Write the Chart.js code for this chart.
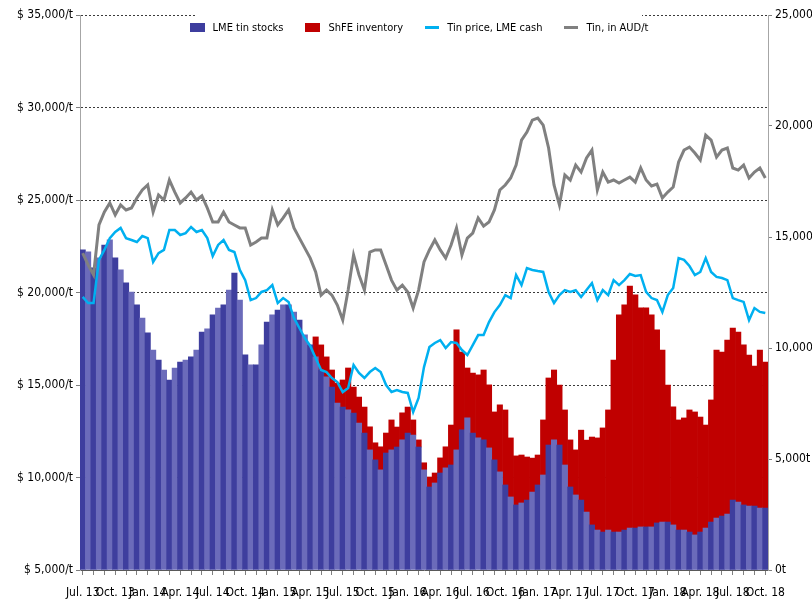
<!DOCTYPE html>
<html>
<head>
<meta charset="utf-8">
<script src="https://cdn.jsdelivr.net/npm/chart.js@4.4.0/dist/chart.umd.min.js"></script>
<style>
  html, body { margin: 0; padding: 0; background: #fff; }
  #wrap { position: relative; width: 812px; height: 603px; }
  #c { position: absolute; left: 0; top: 0; }
  #legend {
    position: absolute; left: 196px; top: 4px; width: 446px; height: 46px;
    background: #fff; display: flex; align-items: center; justify-content: center;
    gap: 22px; font-family: 'Liberation Sans Narrow', 'DejaVu Sans Condensed', sans-serif;
    font-size: 11px; color: #000; white-space: nowrap;
  }
  #legend .item { display: flex; align-items: center; }
  #legend .sw { display: inline-block; margin-right: 8px; }
</style>
</head>
<body>
<div id="wrap">
  <canvas id="c" width="812" height="603"></canvas>
  <div id="legend"></div>
</div>
<script>
// ---- Data (half-monthly, Jul 2013 .. Oct 2018) ----
const quarterLabels = ['Jul. 13','Oct. 13','Jan. 14','Apr. 14','Jul. 14','Oct. 14','Jan. 15','Apr. 15',
  'Jul. 15','Oct. 15','Jan. 16','Apr. 16','Jul. 16','Oct. 16','Jan. 17','Apr. 17','Jul. 17','Oct. 17',
  'Jan. 18','Apr. 18','Jul. 18','Oct. 18'];

// LME tin stocks, tonnes
const lmeStocks = [14420,14330,13610,14060,14640,14870,14060,13520,12930,12520,
  11940,11350,10680,9910,9460,9010,8560,9100,9370,9460,
  9600,9910,10720,10860,11490,11800,11940,12610,13380,12160,
  9690,9240,9240,10140,11170,11490,11710,11940,11940,11620,
  11260,10590,10140,9600,9010,8700,8240,7520,7340,7210,
  7070,6620,6170,5410,4960,4510,5270,5410,5540,5860,
  6170,6080,5540,4510,3740,3920,4370,4600,4730,5410,
  6310,6850,6170,5950,5860,5500,4960,4420,3830,3290,
  2930,3020,3150,3510,3830,4280,5630,5860,5630,4730,
  3740,3380,3150,2610,2030,1800,1710,1800,1710,1710,
  1800,1890,1890,1940,1940,1940,2120,2160,2160,2030,
  1800,1800,1710,1580,1710,1890,2160,2340,2430,2520,
  3150,3060,2930,2880,2880,2790,2790];

// ShFE inventory, tonnes (stacked on top of LME stocks)
const shfeInventory = [null,null,null,null,null,null,null,null,null,null,
  null,null,null,null,null,null,null,null,null,null,
  null,null,null,null,null,null,null,null,null,null,
  null,null,null,null,null,null,null,null,null,null,
  null,null,null,900,1130,900,770,900,1220,1890,
  1170,1170,1170,1040,770,1040,900,1350,900,1220,
  1170,680,320,320,450,450,680,950,1800,5410,
  3510,2250,2700,2840,3150,2840,2160,3020,3380,2660,
  2210,2160,1940,1530,1350,2480,3020,3150,2700,2480,
  2120,2030,3150,3240,3960,4150,4690,5410,7750,9780,
  10140,10900,10500,9870,9870,9550,8700,7750,6170,5320,
  4960,5050,5500,5540,5180,4640,5500,7570,7390,7840,
  7750,7660,7210,6800,6310,7120,6580];

// Tin price, LME cash, $/t
const lmeCash = [19760,19430,19430,21760,22300,22940,23270,23490,22940,22840,
  22730,23050,22940,21650,22130,22300,23380,23380,23110,23210,
  23540,23270,23380,22940,21970,22570,22840,22300,22190,21220,
  20670,19590,19700,20030,20130,20400,19430,19700,19490,18620,
  18080,17540,17110,16460,15810,15700,15380,15160,14620,14840,
  16080,15650,15380,15700,15920,15700,15000,14620,14730,14620,
  14570,13540,14300,15970,17050,17270,17430,17000,17320,17270,
  16890,16620,17160,17700,17700,18400,18940,19320,19860,19700,
  20950,20400,21320,21220,21160,21110,20030,19430,19860,20130,
  20030,20130,19760,20130,20510,19590,20130,19860,20670,20400,
  20670,21000,20890,20940,20030,19700,19590,18940,19860,20240,
  21860,21760,21430,20940,21110,21860,21110,20840,20780,20670,
  19700,19590,19490,18510,19160,18950,18890];

// Tin, in AUD/t
const audPrice = [22130,21490,20950,23650,24350,24840,24190,24730,24460,24570,
  25110,25540,25810,24350,25270,25000,26080,25430,24840,25110,
  25430,25000,25220,24570,23810,23810,24350,23810,23650,23490,
  23490,22570,22730,22940,22940,24460,23650,24030,24460,23490,
  22940,22400,21860,21110,19860,20130,19860,19320,18510,20130,
  22030,20950,20130,22190,22300,22300,21490,20670,20130,20400,
  20030,19160,20130,21650,22300,22840,22300,21860,22570,23490,
  22030,22940,23210,24030,23590,23810,24460,25540,25810,26190,
  26890,28240,28670,29320,29430,29050,27810,25810,24730,26350,
  26080,26890,26510,27270,27700,25540,26510,25970,26080,25920,
  26080,26240,25970,26730,26080,25760,25860,25110,25430,25700,
  27050,27700,27860,27540,27160,28510,28240,27320,27700,27810,
  26730,26620,26890,26190,26510,26730,26190];

// Category labels: half-month periods
const monthNames = ['Jan','Feb','Mar','Apr','May','Jun','Jul','Aug','Sep','Oct','Nov','Dec'];
const periods = [];
for (let k = 0; k < lmeStocks.length; k++) {
  const m = 6 + Math.floor(k / 2);
  const yr = 2013 + Math.floor(m / 12);
  periods.push(monthNames[m % 12] + ' ' + yr + (k % 2 ? ' (2)' : ' (1)'));
}

Chart.defaults.font.family = "'Liberation Sans Narrow', 'DejaVu Sans Condensed', sans-serif";
Chart.defaults.font.size = 12;
Chart.defaults.color = '#000';

const chart = new Chart(document.getElementById('c'), {
  type: 'bar',
  data: {
    labels: periods,
    datasets: [
      { type: 'bar', label: 'LME tin stocks', data: lmeStocks, yAxisID: 'y2', stack: 's',
        backgroundColor: c => (c.dataIndex % 2 ? '#6b6bba' : '#3e3e9e'),
        legendColor: '#3d3d9e',
        barPercentage: 1, categoryPercentage: 1, order: 3 },
      { type: 'bar', label: 'ShFE inventory', data: shfeInventory, yAxisID: 'y2', stack: 's',
        backgroundColor: '#c00000', legendColor: '#c00000',
        barPercentage: 1, categoryPercentage: 1, order: 3 },
      { type: 'line', label: 'Tin price, LME cash', data: lmeCash, yAxisID: 'y',
        borderColor: '#00b0f0', backgroundColor: '#00b0f0', legendColor: '#00b0f0',
        borderWidth: 2.5, pointRadius: 0, tension: 0, order: 2 },
      { type: 'line', label: 'Tin, in AUD/t', data: audPrice, yAxisID: 'y',
        borderColor: '#808080', backgroundColor: '#808080', legendColor: '#808080',
        borderWidth: 3, pointRadius: 0, tension: 0, order: 1 }
    ]
  },
  options: {
    responsive: false, animation: false, devicePixelRatio: 1,
    layout: { padding: { top: 15, left: 0, right: 0, bottom: 0 } },
    plugins: { legend: { display: false }, tooltip: { enabled: false } },
    scales: {
      x: {
        stacked: true, offset: true,
        grid: { display: true, offset: false, drawOnChartArea: false, drawTicks: true, tickLength: 5,
          tickColor: c => (c.index % 2 === 0 ? '#7f7f7f' : 'rgba(0,0,0,0)') },
        border: { color: '#595959' },
        ticks: { autoSkip: false, maxRotation: 0, minRotation: 0, padding: 11,
          callback: (v, i) => (i % 6 === 0 ? quarterLabels[i / 6] : '') },
        afterFit: s => { s.height = 33; }
      },
      y: {
        position: 'left', min: 5000, max: 35000,
        ticks: { stepSize: 5000, padding: 3, callback: v => '$ ' + v.toLocaleString('en-US') + '/t' },
        grid: { color: c => (c.index === 0 ? 'rgba(0,0,0,0)' : '#3a3a3a'), lineWidth: 1, tickLength: 4, tickColor: '#7f7f7f' },
        border: { color: '#a6a6a6', dash: [2, 2] },
        afterFit: s => { s.width = 80; }
      },
      y2: {
        position: 'right', stacked: true, min: 0, max: 25000,
        ticks: { stepSize: 5000, padding: 3, callback: v => v.toLocaleString('en-US') + 't' },
        grid: { drawOnChartArea: false, tickLength: 4, tickColor: '#7f7f7f' },
        border: { color: '#a6a6a6' },
        afterFit: s => { s.width = 44; }
      }
    }
  }
});

// HTML legend built from the chart's datasets
const legendEl = document.getElementById('legend');
chart.data.datasets.forEach(ds => {
  const item = document.createElement('div');
  item.className = 'item';
  const sw = document.createElement('span');
  sw.className = 'sw';
  if (ds.type === 'bar') {
    sw.style.width = '15px'; sw.style.height = '9px';
  } else {
    sw.style.width = '14px'; sw.style.height = '3px';
  }
  sw.style.background = ds.legendColor;
  const tx = document.createElement('span');
  tx.textContent = ds.label;
  item.appendChild(sw); item.appendChild(tx);
  legendEl.appendChild(item);
});
</script>
</body>
</html>
